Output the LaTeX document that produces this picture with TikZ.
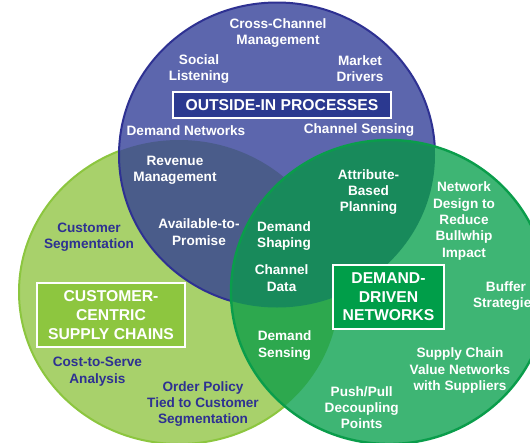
\documentclass[tikz,border=0pt]{standalone}
\usepackage{fontspec}
\setmainfont{Liberation Sans}
\definecolor{bluefill}{HTML}{5C66AD}
\definecolor{blueline}{HTML}{2E3192}
\definecolor{bluebox}{HTML}{2B3990}
\definecolor{limefill}{HTML}{A8D16B}
\definecolor{limeline}{HTML}{8CC63F}
\definecolor{limebox}{HTML}{8DC63F}
\definecolor{slate}{HTML}{4A5C8A}
\definecolor{greenfill}{HTML}{3EB574}
\definecolor{greenline}{HTML}{0A9D4B}
\definecolor{darkgreen}{HTML}{188A5B}
\definecolor{limegreen}{HTML}{2DA84E}
\definecolor{greenbox}{HTML}{009E49}
\definecolor{lbldark}{HTML}{2E3192}
\begin{document}
\begin{tikzpicture}[x=1pt,y=-1pt,
  lbl/.style={font=\fontsize{13.6}{16.4}\selectfont\bfseries, text=white, align=center, inner sep=0pt},
  lbld/.style={lbl, text=lbldark},
  bigbox/.style={draw=white, line width=1.6pt, font=\fontsize{15.7}{18.6}\selectfont\bfseries, text=white, align=center, inner sep=0pt},
  blueE/.style={x radius=158pt, y radius=152.5pt},
  limeE/.style={x radius=160pt, y radius=152pt},
  greenE/.style={x radius=158pt, y radius=152pt}]
\useasboundingbox (0,0) rectangle (530,442);
\fill[white] (0,0) rectangle (530,442);
\clip (0,0) rectangle (530,442);
\coordinate (cb) at (277,155);
\coordinate (cl) at (179,292);
\coordinate (cg) at (389,292);
% lime circle
\fill[limefill] (cl) ellipse [limeE];
\draw[limeline, line width=2pt] (cl) ellipse [limeE];
% blue circle
\fill[bluefill] (cb) ellipse [blueE];
\begin{scope}
  \clip (cl) ellipse [limeE];
  \fill[slate] (cb) ellipse [blueE];
\end{scope}
\draw[blueline, line width=2pt] (cb) ellipse [blueE];
% green circle
\fill[greenfill] (cg) ellipse [greenE];
\begin{scope}
  \clip (cg) ellipse [greenE];
  \fill[limegreen] (cl) ellipse [limeE];
  \fill[darkgreen] (cb) ellipse [blueE];
\end{scope}
\draw[greenline, line width=2.4pt] (cg) ellipse [greenE];
% boxes
\node[bigbox, fill=bluebox, minimum width=218pt, minimum height=26pt] (bOut) at (282,105) {OUTSIDE-IN PROCESSES};
\node[bigbox, fill=limebox, minimum width=148pt, minimum height=64pt] (bCust) at (111,315) {CUSTOMER-\\CENTRIC\\SUPPLY CHAINS};
\node[bigbox, fill=greenbox, minimum width=111pt, minimum height=64pt] (bDem) at (388.5,297) {DEMAND-\\DRIVEN\\NETWORKS};
% labels
\node[lbl] (l1) at (278,33) {Cross-Channel\\Management};
\node[lbl] (l2) at (199,69) {Social\\Listening};
\node[lbl] (l3) at (360,68.5) {Market\\Drivers};
\node[lbl] (l4) at (186,131) {Demand Networks};
\node[lbl] (l5) at (359,130.5) {Channel Sensing};
\node[lbl] (l6) at (175,170.5) {Revenue\\Management};
\node[lbl] (l7) at (199,232) {Available-to-\\Promise};
\node[lbl] (l8) at (368.5,192) {Attribute-\\Based\\Planning};
\node[lbl] (l9) at (464,221) {Network\\Design to\\Reduce\\Bullwhip\\Impact};
\node[lbld] (l10) at (89,237) {Customer\\Segmentation};
\node[lbl] (l11) at (284,236) {Demand\\Shaping};
\node[lbl] (l12) at (281.6,278) {Channel\\Data};
\node[lbl] (l13) at (506,296) {Buffer\\Strategies};
\node[lbl] (l14) at (284.6,345.7) {Demand\\Sensing};
\node[lbl] (l15) at (460,370.5) {Supply Chain\\Value Networks\\with Suppliers};
\node[lbld] (l16) at (97.4,371.5) {Cost-to-Serve\\Analysis};
\node[lbld] (l17) at (203,404) {Order Policy\\Tied to Customer\\Segmentation};
\node[lbl] (l18) at (361.7,407.6) {Push/Pull\\Decoupling\\Points};
\end{tikzpicture}
\end{document}
